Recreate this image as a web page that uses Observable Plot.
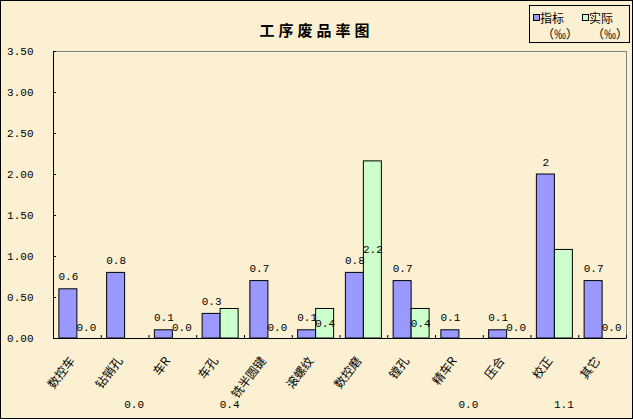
<!DOCTYPE html>
<html><head><meta charset="utf-8">
<script src="https://cdn.jsdelivr.net/npm/d3@7"></script>
<script src="https://cdn.jsdelivr.net/npm/@observablehq/plot@0.6"></script>
<style>
body{margin:0;background:#fff}
#wrap{position:relative;width:633px;height:419px;background:#fcf0d2;outline:1px solid #000;outline-offset:-1px;overflow:hidden;font-family:"Noto Sans CJK SC",sans-serif;color:#000}
#title{position:absolute;left:0;width:633px;top:20px;text-align:center;font-size:15px;line-height:20px;font-weight:bold;letter-spacing:4px;padding-left:0px;box-sizing:border-box}
#legend{position:absolute;left:529px;top:5px;width:99px;height:36px;border:1px solid #000;font-size:12px;line-height:13px}
#legend span{position:absolute;white-space:nowrap}
#legend i{position:absolute;width:5px;height:5px;border:1px solid #000}
#chart{position:absolute;left:0;top:0}
</style></head>
<body>
<div id="wrap">
  <div id="title"></div>
  <div id="legend"></div>
  <div id="chart"></div>
</div>
<script>
const title = "工序废品率图";
const categories = ["数控车","钻销孔","车R","车孔","铣半圆键","滚螺纹","数控磨","镗孔","精车R","压合","校正","其它"];
const seriesNames = ["指标","实际"];
const unitLabel = "（‰）";
const target = [0.6,0.8,0.1,0.3,0.7,0.1,0.8,0.7,0.1,0.1,2,0.7];
const actual = [0,0,0,0.36,0,0.36,2.16,0.36,0,0,1.08,0];
const targetLabels = ["0.6","0.8","0.1","0.3","0.7","0.1","0.8","0.7","0.1","0.1","2","0.7"];
const yTicks = [0,0.5,1,1.5,2,2.5,3,3.5];
// Excel moved some data labels of the second series below the category labels
const displacedLabels = ["钻销孔","车孔","精车R","校正"];

const colors = ["#9999ff","#ccffcc"];
const data = categories.map((c,i)=>({cat:c, target:target[i], actual:actual[i], tLabel:targetLabels[i], aLabel:d3.format(".1f")(actual[i])}));

const W = 633, H = 419, mL = 53, mT = 51, mR = 7, mB = 81;
const plotW = W - mL - mR, plotH = H - mT - mB;
const step = plotW / categories.length;
const barW = 18;
const numFont = "Liberation Mono, DejaVu Sans Mono, monospace";

document.getElementById("title").textContent = title;
const leg = document.getElementById("legend");
leg.innerHTML = `
<i style="left:3px;top:8px;background:${colors[0]}"></i><span style="left:10px;top:5px">${seriesNames[0]}</span>
<span style="left:12px;top:21px">${unitLabel}</span>
<i style="left:52px;top:8px;background:${colors[1]}"></i><span style="left:59px;top:5px">${seriesNames[1]}</span>
<span style="left:62px;top:21px">${unitLabel}</span>`;

const chart = Plot.plot({
  width: W, height: H,
  marginLeft: mL, marginTop: mT, marginRight: mR, marginBottom: mB,
  style: {background: "transparent", overflow: "visible"},
  x: {domain: categories, paddingInner: 0, paddingOuter: 0, round: false, axis: null},
  y: {domain: [0, 3.5], axis: null},
  marks: [
    Plot.frame({stroke: "#808080"}),
    Plot.barY(data.filter(d=>d.target>0), {x: "cat", y: "target", fill: colors[0], stroke: "#000", strokeWidth: 1, insetLeft: step/2 - barW, insetRight: step/2}),
    Plot.barY(data.filter(d=>d.actual>0), {x: "cat", y: "actual", fill: colors[1], stroke: "#000", strokeWidth: 1, insetLeft: step/2, insetRight: step/2 - barW}),
    Plot.ruleY([0], {stroke: "#000"}),
    Plot.frame({anchor: "left", stroke: "#000"}),
    Plot.ruleY(yTicks, {y: d=>d, stroke: "#000", insetRight: plotW - 3}),
    Plot.ruleX(categories, {x: d=>d, y1: 0, y2: 0, insetTop: -3, dx: step/2, stroke: "#000"}),
    Plot.axisY(yTicks, {tickSize: 0, tickPadding: 20, tickFormat: d3.format(".2f"), fontSize: 11, fontFamily: numFont, fill: "#000"}),
    Plot.text(data, {x: "cat", y: "target", text: "tLabel", dx: -barW/2, dy: -9, lineAnchor: "bottom", fontSize: 11, fontFamily: numFont, fill: "#000"}),
    Plot.text(data.filter(d=>!displacedLabels.includes(d.cat) && d.actual>0), {x: "cat", y: d=>d.actual/2, text: "aLabel", dx: barW/2, fontSize: 11, fontFamily: numFont, fill: "#000"}),
    Plot.text(data.filter(d=>!displacedLabels.includes(d.cat) && d.actual===0), {x: "cat", y: 0, text: "aLabel", dx: barW/2, dy: -11, fontSize: 11, fontFamily: numFont, fill: "#000"}),
    Plot.text(data.filter(d=>displacedLabels.includes(d.cat)), {x: "cat", y: 0, text: "aLabel", dx: barW/2, dy: 66, fontSize: 11, fontFamily: numFont, fill: "#000"}),
    Plot.text(categories, {x: d=>d, y: 0, text: d=>d, dx: -5, dy: 20, rotate: -53, textAnchor: "end", lineAnchor: "middle", fontSize: 12, fontFamily: "Noto Sans CJK SC, sans-serif", fill: "#000"})
  ]
});
document.getElementById("chart").appendChild(chart);
</script>
</body></html>
